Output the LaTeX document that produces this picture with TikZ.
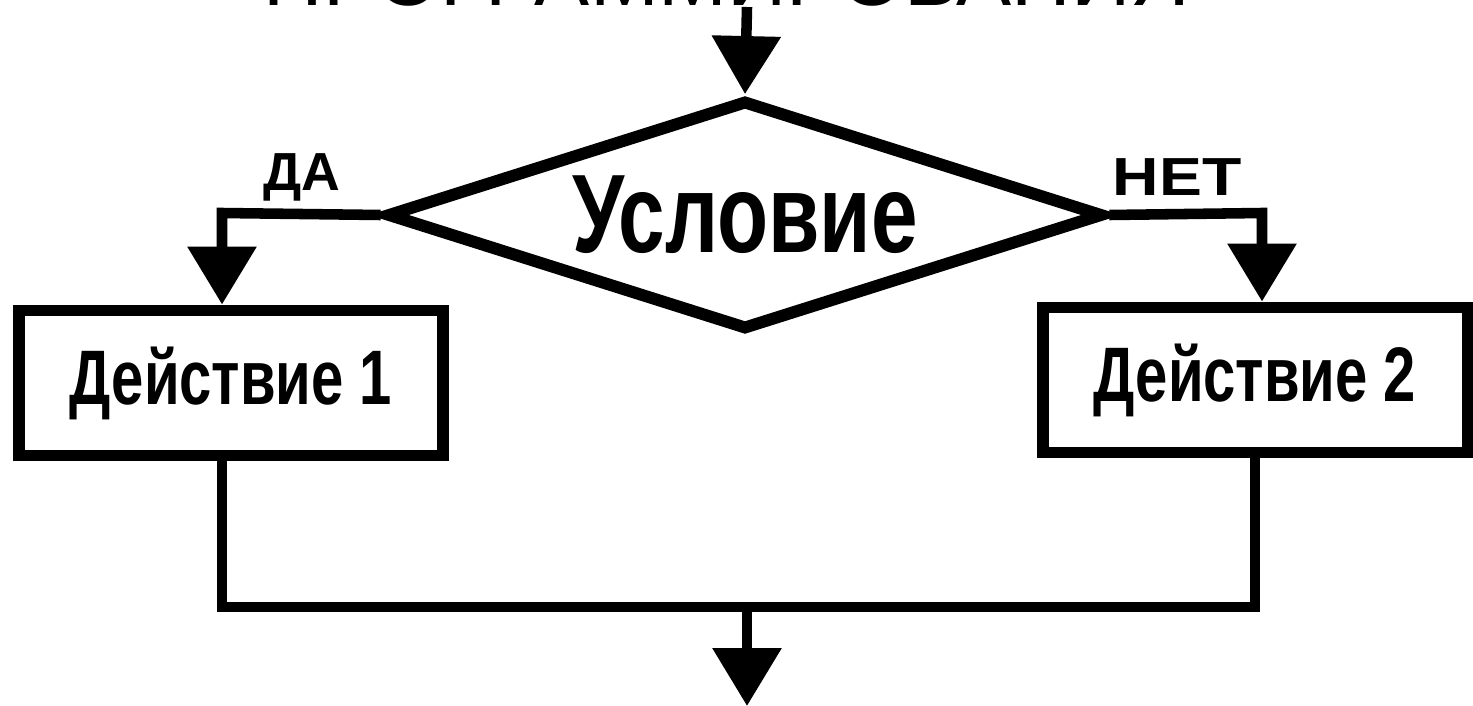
\documentclass[tikz,border=0pt]{standalone}
\usepackage{fontspec}
\setmainfont{Liberation Sans}
\newfontfamily\narrowfont[FakeStretch=0.75]{Liberation Sans}
\usetikzlibrary{shapes.geometric,arrows.meta}

\begin{document}
\begin{tikzpicture}[x=0.02cm,y=-0.02cm,
  box/.style={draw,line width=6.8pt,minimum width=8.5cm,minimum height=2.9cm,inner sep=0pt,
    font=\narrowfont\bfseries\fontsize{44pt}{50pt}\selectfont},
  test/.style={draw,diamond,aspect=3.1,line width=6.8pt,minimum width=14.34cm,minimum height=4.6cm,
    inner sep=0pt,font=\narrowfont\bfseries\fontsize{63.5pt}{70pt}\selectfont},
  lbl/.style={anchor=base,font=\bfseries\fontsize{30.5pt}{34pt}\selectfont},
  wire/.style={line width=6pt},
  arr/.style={line width=6pt,-{Triangle[width=38pt,length=33pt]}}]
  \useasboundingbox (0,0) rectangle (1473,706);
  \clip (0,0) rectangle (1473,706);
  \node[anchor=base,font=\fontsize{47pt}{52pt}\selectfont] (title) at (727,6) {ПРОГРАММИРОВАНИЯ};
  \node[test] (cond) at (745,215) {Условие};
  \node[box] (act1) at (231,383) {Действие 1};
  \node[box] (act2) at (1255,380) {Действие 2};
  \node[lbl] (yes) at (302,190) {ДА};
  \node[lbl,font=\bfseries\fontsize{30.5pt}{34pt}\selectfont\addfontfeature{FakeStretch=1.2}] (no) at (1177,195) {НЕТ};
  \coordinate (in) at (747,7);
  \coordinate (ya) at (222,213);
  \coordinate (na) at (1262,213);
  \coordinate (join) at (747,607);
  \coordinate (out) at (747,706);
  \draw[arr] (in) -- (cond.north);
  \draw[arr] (cond.west) -- (ya) -- (ya |- act1.north);
  \draw[arr] (cond.east) -- (na) -- (na |- act2.north);
  \draw[wire] (ya |- act1.south) -- (ya |- join) -- (act2.south |- join) -- (act2.south);
  \draw[arr] (join) -- (out);
\end{tikzpicture}
\end{document}
